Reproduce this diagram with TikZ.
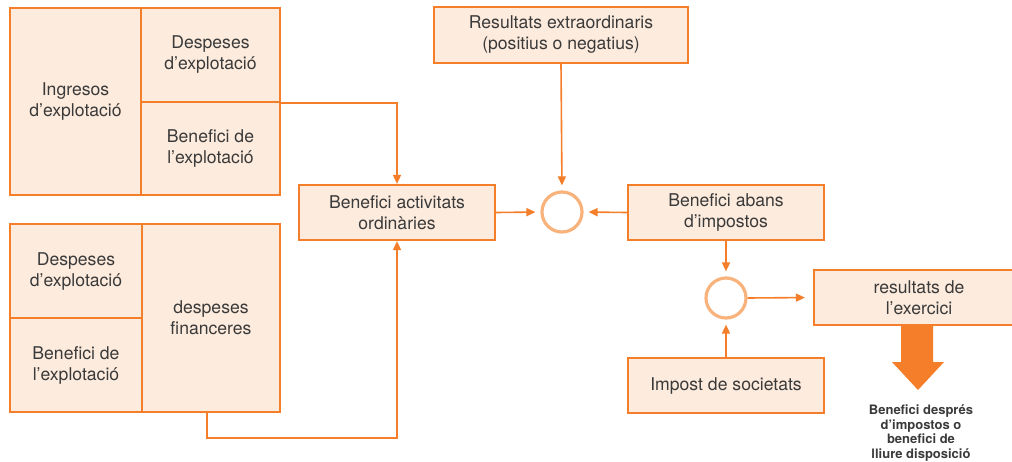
\documentclass[tikz,border=0pt]{standalone}
\usepackage{fontspec}
\setmainfont{TeX Gyre Heros}
\usetikzlibrary{arrows.meta}
\definecolor{ora}{HTML}{F47E2A}
\definecolor{fil}{HTML}{FDEBDD}
\definecolor{cir}{HTML}{F8B27C}
\definecolor{txt}{HTML}{3A3A3A}
\tikzset{
  box/.style={draw=ora, fill=fil, line width=2.2pt, inner sep=0pt, align=center,
    text=txt, font=\fontsize{17.6}{21}\selectfont},
  sumc/.style={circle, draw=cir, line width=3.2pt, minimum size=40pt, inner sep=0pt},
  conn/.style={draw=ora, line width=1.6pt, -{Triangle[length=9pt,width=8pt]}},
  connc/.style={conn, shorten >=5pt},
}
\begin{document}
\begin{tikzpicture}[x=1pt,y=-1pt]
\useasboundingbox (0,0) rectangle (1012,461);
% top-left group
\node[box, minimum width=131, minimum height=187] (ingA) at (75.5,101.5) {Ingresos\\d’explotació};
\node[box, minimum width=139, minimum height=94] (despA) at (210.5,55) {Despeses\\d’explotació};
\node[box, minimum width=139, minimum height=93] (benA) at (210.5,148.5) {Benefici de\\l’explotació};
% bottom-left group
\node[box, minimum width=132, minimum height=94] (despB) at (76,271) {Despeses\\d’explotació};
\node[box, minimum width=132, minimum height=94] (benB) at (76,365) {Benefici de\\l’explotació};
\node[box, minimum width=138, minimum height=188] (finB) at (211,318) {despeses\\financeres};
% middle
\node[box, minimum width=196, minimum height=55] (bao) at (397,212.5) {Benefici activitats\\ordinàries};
\node[box, minimum width=254, minimum height=56] (res) at (561,35) {Resultats extraordinaris\\(positius o negatius)};
\node[sumc] (c1) at (562,212) {};
\node[box, minimum width=196, minimum height=55] (bai) at (726,212.5) {Benefici abans\\d’impostos};
\node[sumc] (c2) at (726,298) {};
\node[box, minimum width=210, minimum height=55] (rex) at (919,297.5) {resultats de\\l’exercici};
\node[box, minimum width=196, minimum height=55] (imp) at (726,385.5) {Impost de societats};
% connectors
\draw[conn] (despA.south east) -| (bao.north);
\draw[conn] ([xshift=-4pt]finB.south) -- ++(0,25) -| (bao.south);
\draw[connc] (bao.east) -- (c1.west);
\draw[connc] (res.south) -- (c1.north);
\draw[connc] (bai.west) -- (c1.east);
\draw[connc] (bai.south) -- (c2.north);
\draw[connc] (imp.north) -- (c2.south);
\draw[conn, shorten >=8pt] (c2.east) -- (rex.west);
% big arrow
\fill[ora] (901,325) -- (933,325) -- (933,362) -- (944,362) -- (918,390) -- (892,362) -- (901,362) -- cycle;
\node[align=center, text=txt, font=\fontsize{13}{14.6}\selectfont\bfseries, inner sep=0pt] (lab) at (921,433)
  {Benefici després\\d’impostos o\\benefici de\\lliure disposició};
\end{tikzpicture}
\end{document}
